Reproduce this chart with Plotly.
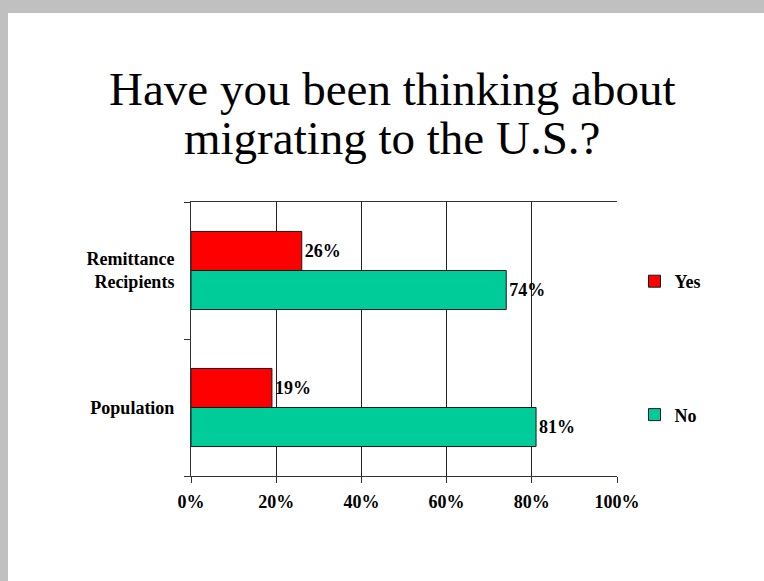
import plotly.graph_objects as go

# Survey responses (percent of respondents)
categories = ["Population", "Remittance Recipients"]
category_labels = ["Population", "Remittance<br>Recipients"]
yes_values = [19, 26]
no_values = [81, 74]
x_ticks = [0, 20, 40, 60, 80, 100]
title_lines = ["Have you been thinking about", "migrating to the U.S.?"]

SERIF = "Times New Roman, Liberation Serif, serif"
W, H = 764, 581
L, R, T, B = 191, 147, 202, 105
plot_w, plot_h = W - L - R, H - T - B


def px_x(px):
    return (px - L) / plot_w


def px_y(py):
    return (H - B - py) / plot_h


bold = dict(family=SERIF, size=18, color="black", weight="bold")

fig = go.Figure()

fig.add_trace(go.Bar(
    y=categories, x=no_values, orientation="h", name="No",
    marker=dict(color="#00CC99", line=dict(color="#1a1a1a", width=1)),
    text=[f"{v}%" for v in no_values], textposition="outside",
    textfont=bold, cliponaxis=False, legendgroup="no", legendrank=2,
))
fig.add_trace(go.Bar(
    y=categories, x=yes_values, orientation="h", name="Yes",
    marker=dict(color="#FF0000", line=dict(color="#1a1a1a", width=1)),
    text=[f"{v}%" for v in yes_values], textposition="outside",
    textfont=bold, cliponaxis=False, legendgroup="yes", legendrank=1,
))

# Slide background: grey frame with white page
fig.add_shape(type="rect", xref="paper", yref="paper", layer="below",
              x0=px_x(8), x1=px_x(W + 20), y0=px_y(H + 20), y1=px_y(13),
              fillcolor="white", line=dict(width=0))

fig.update_layout(
    width=W, height=H,
    margin=dict(l=L, r=R, t=T, b=B, pad=0),
    paper_bgcolor="#C0C0C0", plot_bgcolor="white",
    barmode="group", bargap=0.43, bargroupgap=0,
    showlegend=True,
    legend=dict(x=px_x(634.5), y=px_y(263), xanchor="left", yanchor="top",
                traceorder="grouped", tracegroupgap=107,
                bgcolor="rgba(0,0,0,0)", font=bold),
    font=dict(family=SERIF, size=18, color="black"),
)

# Two-line slide heading
for i, line in enumerate(title_lines):
    fig.add_annotation(text=line, xref="paper", yref="paper",
                       x=px_x(391.5), y=px_y(89 + 49 * i),
                       xanchor="center", yanchor="middle", showarrow=False,
                       font=dict(family="Tinos, Liberation Serif, serif",
                                 size=47, color="black"))

fig.update_xaxes(
    range=[0, 100], tickvals=x_ticks, ticktext=[f"{v}%" for v in x_ticks],
    showgrid=True, gridcolor="#222", gridwidth=1,
    showline=True, linecolor="#333", linewidth=1, mirror=True,
    ticks="outside", ticklen=6, tickcolor="#333",
    tickfont=bold, ticklabelstandoff=3,
    zeroline=False,
)
fig.update_yaxes(
    categoryorder="array", categoryarray=categories,
    tickvals=categories, ticktext=category_labels,
    range=[-0.5, 1.5], tickson="boundaries",
    showline=True, linecolor="#333", linewidth=1,
    ticks="outside", ticklen=6, tickcolor="#333",
    showgrid=False, zeroline=False,
    tickfont=bold, ticklabelstandoff=12,
)

fig.write_html("out.html")
